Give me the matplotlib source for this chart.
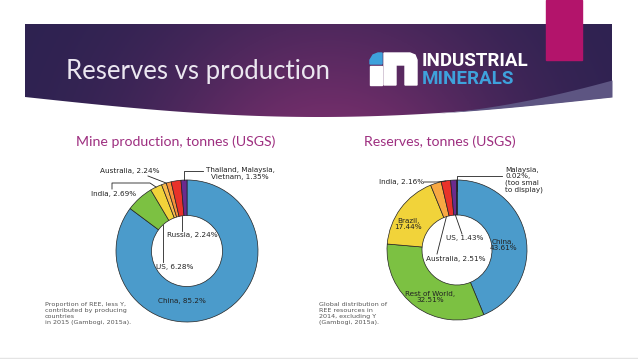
import numpy as np
import matplotlib
matplotlib.use("Agg")
import matplotlib.pyplot as plt
from matplotlib.patches import Polygon, Rectangle

# data
prod_labels = ["China", "US", "India", "Australia", "Australia", "Russia", "Thailand, Malaysia, Vietnam"]
prod_values = [85.2, 6.28, 2.69, 1.12, 1.12, 2.24, 1.35]
prod_colors = ["#4b9bcb", "#7cc142", "#f1d33a", "#f8b94a", "#f5903a", "#e8322a", "#6a2b8e"]

res_labels = ["China", "Rest of World", "Brazil", "Australia", "India", "US", "Malaysia"]
res_values = [43.61, 32.51, 17.44, 2.51, 2.16, 1.43, 0.02]
res_colors = ["#4b9bcb", "#7cc142", "#f1d33a", "#f7a843", "#e8322a", "#6a2b8e", "#6a2b8e"]

W, H = 638, 359
fig = plt.figure(figsize=(W / 100, H / 100), dpi=100)
fig.patch.set_facecolor("white")
bg = fig.add_axes([0, 0, 1, 1])
bg.set_xlim(0, W)
bg.set_ylim(H, 0)
bg.axis("off")
bg.set_zorder(2)

# banner
x0, x1, top = 25, 612, 24
xs = np.linspace(x1, x0, 120)
bottom = 97 + 20 * np.sin(np.pi * (xs - x0) / (x1 - x0))
verts = [(x0, top), (x1, top)] + list(zip(xs, bottom))
banner = Polygon(verts, closed=True, facecolor="none", edgecolor="none")
bg.add_patch(banner)

gx, gy = np.meshgrid(np.linspace(x0, x1, 300), np.linspace(top, 120, 60))
glow = np.exp(-((gx - 330) / 180) ** 2) * (0.5 + 0.5 * (gy - top) / 96)
dark = np.array([0x2c, 0x22, 0x50]) / 255
light = np.array([0x72, 0x2e, 0x6a]) / 255
img = dark + glow[..., None] * (light - dark)
im = bg.imshow(img, extent=[x0, x1, 120, top], aspect="auto", zorder=1)
im.set_clip_path(banner)

# light stripe lower right
sx = np.linspace(430, x1, 80)
sb = 97 + 20 * np.sin(np.pi * (sx - x0) / (x1 - x0))
st = sb - 17 * ((sx - 430) / (x1 - 430)) ** 1.8
bg.fill_between(sx, st, sb, color="#5d5582", lw=0, zorder=2)

bg.add_patch(Rectangle((546, 0), 36, 60, color="#b3146b", zorder=3))

bg.text(66, 71, "Reserves vs production", color="#ebe7f0", fontsize=18.5,
        family="Lato", va="center", ha="left", zorder=4)

# logo
bg.add_patch(Rectangle((370, 66), 12, 19, color="white", zorder=4))
bg.add_patch(Polygon([(370, 64), (370, 60), (373, 55), (378, 53), (382, 53), (382, 64)],
                     color="#3ea2dc", zorder=4))
bg.add_patch(Polygon([(384, 53), (410, 53), (415, 55), (417, 60), (417, 85), (405, 85),
                      (405, 65), (396, 65), (396, 85), (384, 85)], color="white", zorder=4))
bg.text(422, 61.5, "INDUSTRIAL", color="white", fontsize=13.5, family="Roboto",
        fontweight="bold", va="center", ha="left", zorder=4)
bg.text(422, 78.5, "MINERALS", color="#3ea2dc", fontsize=13.5, family="Roboto",
        fontweight="bold", va="center", ha="left", zorder=4)

sub_color = "#9e2f80"
bg.text(176, 142, "Mine production, tonnes (USGS)", color=sub_color, fontsize=10.2,
        family="Lato", ha="center", va="center")
bg.text(440, 142, "Reserves, tonnes (USGS)", color=sub_color, fontsize=10.2,
        family="Lato", ha="center", va="center")


def donut(cx, cy, R, values, colors):
    ax = fig.add_axes([(cx - R) / W, (H - cy - R) / H, 2 * R / W, 2 * R / H])
    ax.set_zorder(1)
    wedges, _ = ax.pie(values, colors=colors, startangle=90, counterclock=False,
                       radius=1, wedgeprops=dict(width=0.5, edgecolor="#222222", linewidth=0.5))
    ax.set_xlim(-1, 1)
    ax.set_ylim(-1, 1)
    ax.axis("off")
    return wedges


def pt(cx, cy, R, ang, r):
    a = np.radians(ang)
    return cx + R * r * np.cos(a), cy - R * r * np.sin(a)


def mid(w):
    return (w.theta1 + w.theta2) / 2


lab = dict(fontsize=5.2, color="#222222", ha="center", va="center", family="DejaVu Sans")
lc = dict(color="#222222", lw=0.6)

# production donut
c1 = (187, 251, 71)
w1 = donut(*c1, prod_values, prod_colors)
bg.text(182, 301, f"{prod_labels[0]}, {prod_values[0]}%", **lab)
bg.text(175, 267, f"{prod_labels[1]}, {prod_values[1]}%", **lab)
bg.text(192, 235, f"{prod_labels[5]}, {prod_values[5]}%", **lab)
bg.text(114, 194, f"{prod_labels[2]}, {prod_values[2]}%", **lab)
bg.text(130, 171, f"{prod_labels[3]}, {prod_values[3] + prod_values[4]:.2f}%", **lab)
bg.text(240, 173.5, "Thailand, Malaysia,\nVietnam, %.2f%%" % prod_values[6], linespacing=1.1, **lab)

ex, ey = pt(*c1, mid(w1[1]), 0.5)
bg.plot([ex, ex], [262, ey], **lc)
ex, ey = pt(*c1, mid(w1[5]), 0.5)
bg.plot([ex, ex], [231, ey], **lc)
ex, ey = pt(*c1, mid(w1[2]), 1.0)
bg.plot([112, 112, 150, ex], [189, 183, 183, ey], **lc)
ex, ey = pt(*c1, w1[3].theta1, 1.0)
bg.plot([148, ex], [176, ey], **lc)
ex, ey = pt(*c1, mid(w1[6]), 1.0)
bg.plot([ex, ex, 203], [ey, 171, 171], **lc)

# reserves donut
c2 = (457, 250, 70)
w2 = donut(*c2, res_values, res_colors)
bg.text(503, 245, f"{res_labels[0]},\n{res_values[0]}%", linespacing=1.1, **lab)
bg.text(430, 297, f"{res_labels[1]},\n{res_values[1]}%", linespacing=1.1, **lab)
bg.text(408, 224, f"{res_labels[2]},\n{res_values[2]}%", linespacing=1.1, **lab)
bg.text(465, 238, f"{res_labels[5]}, {res_values[5]}%", **lab)
bg.text(456, 259, f"{res_labels[3]}, {res_values[3]}%", **lab)
bg.text(402, 182, f"{res_labels[4]}, {res_values[4]}%", **lab)
bg.text(505, 180, f"{res_labels[6]},\n{res_values[6]}%,\n(too smal\nto display)",
        linespacing=1.1, **dict(lab, ha="left"))

ex, ey = pt(*c2, mid(w2[4]), 1.0)
bg.plot([424, 437, ex], [182, 182, ey], **lc)
ex, ey = pt(*c2, mid(w2[3]), 0.5)
bg.plot([437, ex], [254, ey], **lc)
ex, ey = pt(*c2, mid(w2[5]), 0.5)
bg.plot([462, ex], [234, ey], **lc)
ex, ey = pt(*c2, mid(w2[6]), 0.85)
bg.plot([ex, ex, 502], [ey, 176, 176], **lc)

note = dict(fontsize=4.6, color="#555555", ha="left", va="top", family="DejaVu Sans", linespacing=1.25)
bg.text(45, 302, "Proportion of REE, less Y,\ncontributed by producing\ncountries\nin 2015 (Gambogi, 2015a).", **note)
bg.text(319, 302, "Global distribution of\nREE resources in\n2014, excluding Y\n(Gambogi, 2015a).", **note)

bg.plot([0, W], [357.5, 357.5], color="#e4e4e4", lw=1)

fig.savefig("out.png", dpi=100, facecolor="white")
